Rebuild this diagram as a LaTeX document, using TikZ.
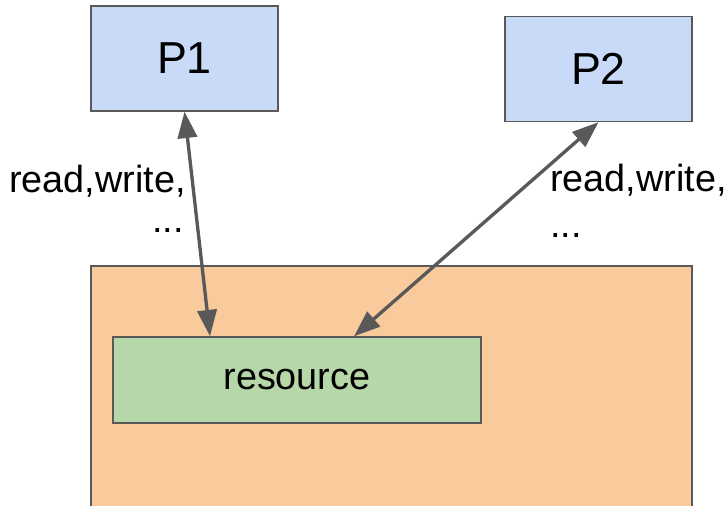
\documentclass[tikz,border=0pt]{standalone}
\usepackage{fontspec}
\setmainfont{Liberation Sans}
\usetikzlibrary{arrows.meta}

\definecolor{procblue}{HTML}{C9DAF8}
\definecolor{memorange}{HTML}{F9CB9C}
\definecolor{resgreen}{HTML}{B6D7A8}
\definecolor{edgegray}{HTML}{595959}

\begin{document}
\begin{tikzpicture}[x=0.02cm, y=-0.02cm,
	box/.style={draw=edgegray, line width=0.8pt, rectangle, inner sep=0pt},
	access/.style={{Triangle[length=15pt,width=11pt]}-{Triangle[length=15pt,width=11pt]}, edgegray, line width=1.9pt},
	lbl/.style={inner sep=0pt, font=\fontsize{21.5}{26}\selectfont}]

\def \pw{3.74cm}
\def \ph{2.1cm}

\clip (0,0) rectangle (728,506);

\node [box, fill=memorange, minimum width=12.02cm, minimum height=5cm] (mem) at (391.5,391) {};
\node [box, fill=resgreen, minimum width=7.36cm, minimum height=1.72cm, font=\fontsize{21.5}{26}\selectfont] (res) at (297,380) {resource};

\node [box, fill=procblue, minimum width=\pw, minimum height=\ph, font=\fontsize{25.5}{30}\selectfont] (p1) at (184.5,58.5) {P1};
\node [box, fill=procblue, minimum width=\pw, minimum height=\ph, font=\fontsize{25.5}{30}\selectfont] (p2) at (598.5,69) {P2};

\draw [access] (p1.south) -- ([xshift=-1.74cm]res.north);
\draw [access] (p2.south) -- ([xshift=1.14cm]res.north);

\node [lbl, anchor=base east] (op1) at (186,193) {read,write,};
\node [lbl, anchor=base east] (more1) at (184,233) {...};
\node [lbl, anchor=base west] (op2) at (550,192) {read,write,};
\node [lbl, anchor=base west] (more2) at (550,238) {...};
\end{tikzpicture}
\end{document}
